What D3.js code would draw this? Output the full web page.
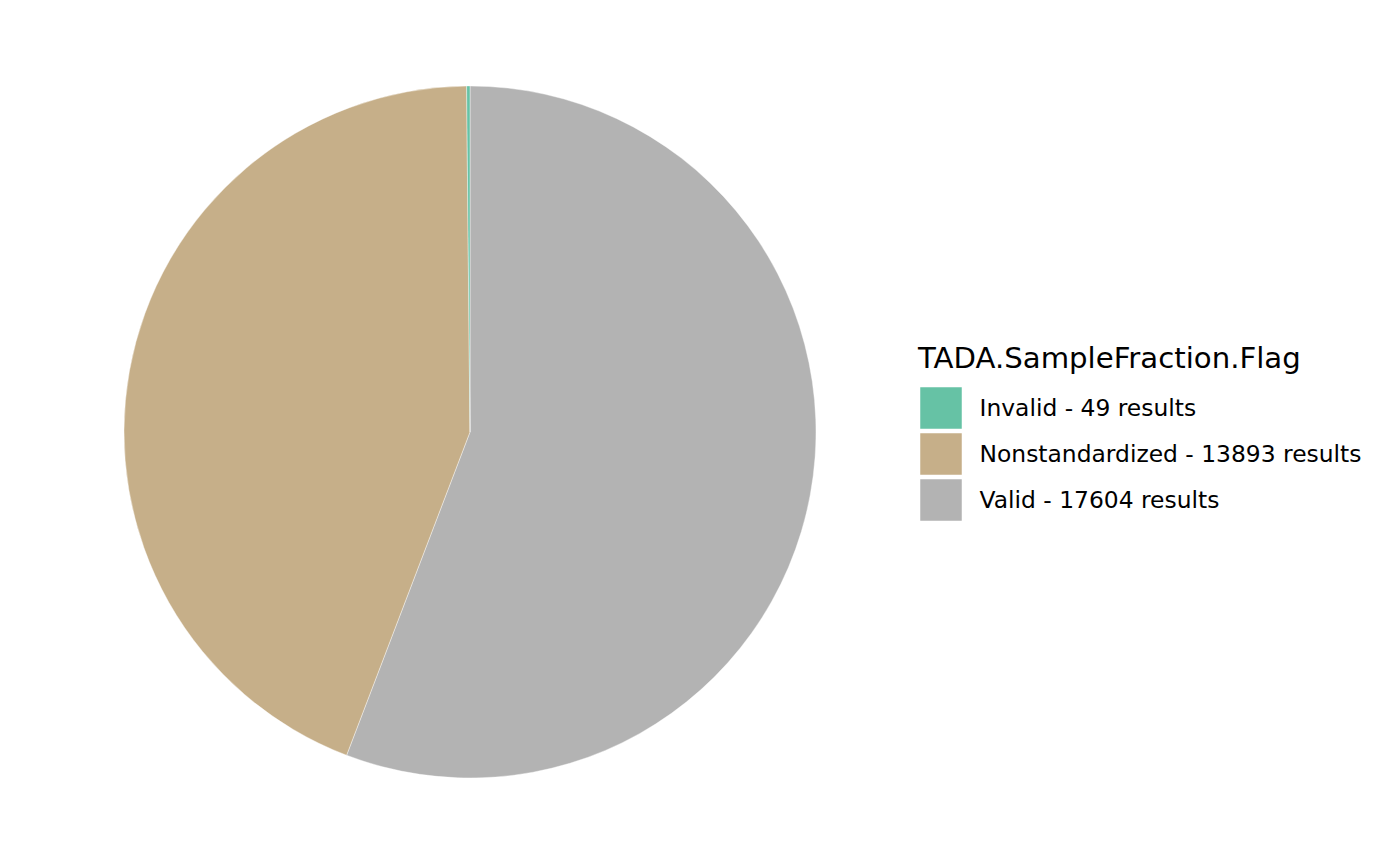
<!DOCTYPE html>
<html><head><meta charset="utf-8">
<script src="https://cdn.jsdelivr.net/npm/d3@7"></script>
<style>body{margin:0;background:#fff}svg{display:block}text{font-family:"DejaVu Sans",sans-serif}</style>
</head><body><svg id="c" width="1400" height="865"></svg>
<script>
const categories = ["Invalid", "Nonstandardized", "Valid"];
const counts = [49, 13893, 17604];
const colors = ["#66C2A5", "#C6AF89", "#B3B3B3"];
const legendTitle = "TADA.SampleFraction.Flag";

const svg = d3.select("#c");
const cx = 470, cy = 432, R = 346;
const data = categories.map((c, i) => ({cat: c, n: counts[i], col: colors[i]}));
const color = d3.scaleOrdinal().domain(categories).range(colors);
// ggplot stacking: last level at start, clockwise from top
const order = data.slice().reverse();
const pie = d3.pie().sort(null).value(d => d.n);
const arc = d3.arc().innerRadius(0).outerRadius(R);
svg.append("g").attr("transform", `translate(${cx},${cy})`)
  .selectAll("path").data(pie(order)).join("path")
  .attr("d", arc).attr("fill", d => color(d.data.cat))
  .attr("stroke", "#fff").attr("stroke-width", 0.4);

const lg = svg.append("g").attr("transform", "translate(918,0)");
lg.append("text").attr("x", 0).attr("y", 368).attr("font-size", 29.2).attr("fill", "#000").text(legendTitle);
const y = d3.scaleBand().domain(categories).range([385, 523]).padding(0);
categories.forEach((c, i) => {
  const yy = y(c);
  lg.append("rect").attr("x", 1.5).attr("y", yy + 1.5).attr("width", 43).attr("height", y.bandwidth() - 3)
    .attr("fill", color(c)).attr("stroke", "#fff").attr("stroke-width", 1.5);
  lg.append("text").attr("x", 61.5).attr("y", yy + y.bandwidth() / 2).attr("dy", "0.36em")
    .attr("font-size", 23.4).attr("fill", "#000").text(`${c} - ${counts[i]} results`);
});
</script></body></html>
